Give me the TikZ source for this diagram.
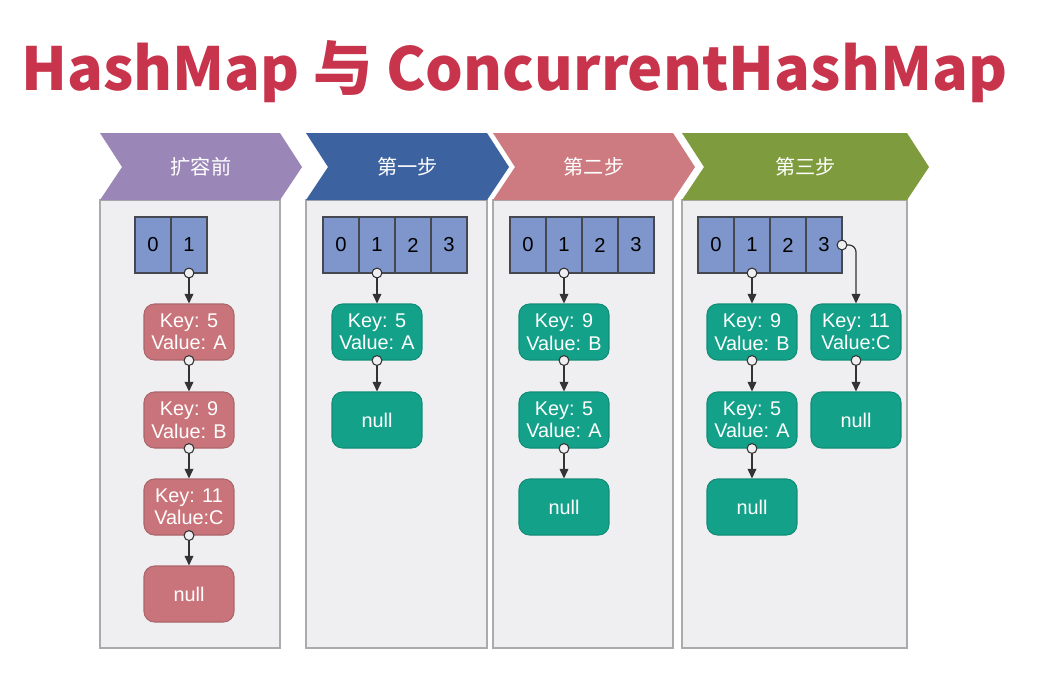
\documentclass[tikz,border=0pt]{standalone}
\usepackage{fontspec}
\setmainfont{Liberation Sans}
\newfontfamily\cjk{Noto Sans CJK SC}
\usetikzlibrary{arrows.meta}
\definecolor{titlered}{HTML}{C8344C}
\definecolor{hdrpurple}{HTML}{9A87B7}
\definecolor{hdrblue}{HTML}{3D62A0}
\definecolor{hdrpink}{HTML}{CD7B81}
\definecolor{hdrgreen}{HTML}{7E9C3E}
\definecolor{panelfill}{HTML}{EFEEF1}
\definecolor{panelline}{HTML}{ABABAB}
\definecolor{cellfill}{HTML}{7E96CB}
\definecolor{celline}{HTML}{454850}
\definecolor{oldfill}{HTML}{C9747A}
\definecolor{oldline}{HTML}{A9666B}
\definecolor{newfill}{HTML}{13A189}
\definecolor{newline}{HTML}{108C77}
\definecolor{linkc}{HTML}{333333}
\tikzset{
  panel/.style={draw=panelline,fill=panelfill,line width=0.6pt},
  steplabel/.style={text=white,font=\cjk\fontsize{11.5}{13}\selectfont},
  cell/.style={draw=celline,fill=cellfill,line width=1.1pt,minimum width=0.72cm,minimum height=1.12cm,inner sep=0pt,outer sep=0pt,font=\fontsize{11.5}{13}\selectfont},
  entry/.style={rounded corners=6pt,line width=0.6pt,minimum width=1.8cm,minimum height=1.12cm,align=center,text=white,inner sep=0pt,font=\fontsize{11.3}{12.8}\selectfont},
  oldentry/.style={entry,draw=oldline,fill=oldfill},
  newentry/.style={entry,draw=newline,fill=newfill},
  link/.style={draw=linkc,line width=0.7pt,-{Triangle[length=5.5pt,width=5pt]}},
  ring/.style={draw=linkc,fill=panelfill,line width=0.6pt}
}
\begin{document}
\begin{tikzpicture}[x=0.02cm,y=-0.02cm]
\useasboundingbox (0,0) rectangle (1046,680);
\fill[white] (0,0) rectangle (1046,680);
\node[anchor=base west,text=titlered,font=\cjk\bfseries\fontsize{33.8}{40}\selectfont] (title) at (15,90) {HashMap 与 ConcurrentHashMap};
% panels with their step banners
\foreach \l/\r/\col/\txt [count=\n] in {100/280/hdrpurple/扩容前,306/487/hdrblue/第一步,493/673/hdrpink/第二步,682/907/hdrgreen/第三步}{
  \draw[panel] (\l,200) rectangle (\r,648);
  \fill[\col] (\l,133) -- (\r,133) -- (\r+22,167) -- (\r,200) -- (\l,200) -- (\l+22,167) -- cycle;
  \node[steplabel] (h\n) at ({(\l+\r+22)/2},167) {\txt};
}
% tables
\foreach \i in {0,1} \node[cell] (a\i) at (153+36*\i,245) {\i};
\foreach \i in {0,...,3} \node[cell] (b\i) at (341+36*\i,245) {\i};
\foreach \i in {0,...,3} \node[cell] (c\i) at (528+36*\i,245) {\i};
\foreach \i in {0,...,3} \node[cell] (d\i) at (716+36*\i,245) {\i};
% before resize
\node[oldentry] (ak5) at (189,332) {Key: 5\\Value: A};
\node[oldentry] (ak9) at (189,420) {Key: 9\\Value: B};
\node[oldentry] (ak11) at (189,507) {Key: 11\\Value:C};
\node[oldentry] (an) at (189,594) {null};
% step 1
\node[newentry] (bk5) at (377,332) {Key: 5\\Value: A};
\node[newentry] (bn) at (377,420) {null};
% step 2
\node[newentry] (ck9) at (564,332) {Key: 9\\Value: B};
\node[newentry] (ck5) at (564,420) {Key: 5\\Value: A};
\node[newentry] (cn) at (564,507) {null};
% step 3
\node[newentry] (dk9) at (752,332) {Key: 9\\Value: B};
\node[newentry] (dk5) at (752,420) {Key: 5\\Value: A};
\node[newentry] (dn) at (752,507) {null};
\node[newentry] (dk11) at (856,332) {Key: 11\\Value:C};
\node[newentry] (dn2) at (856,420) {null};
% links
\foreach \s/\t in {a1/ak5,ak5/ak9,ak9/ak11,ak11/an,b1/bk5,bk5/bn,c1/ck9,ck9/ck5,ck5/cn,d1/dk9,dk9/dk5,dk5/dn,dk11/dn2}{
  \draw[link] (\s.south) -- (\t.north);
  \draw[ring] (\s.south) circle[radius=2.8pt];
}
\draw[link,rounded corners=4pt] (d3.east) -| (dk11.north);
\draw[ring] (d3.east) circle[radius=2.8pt];
\end{tikzpicture}
\end{document}
